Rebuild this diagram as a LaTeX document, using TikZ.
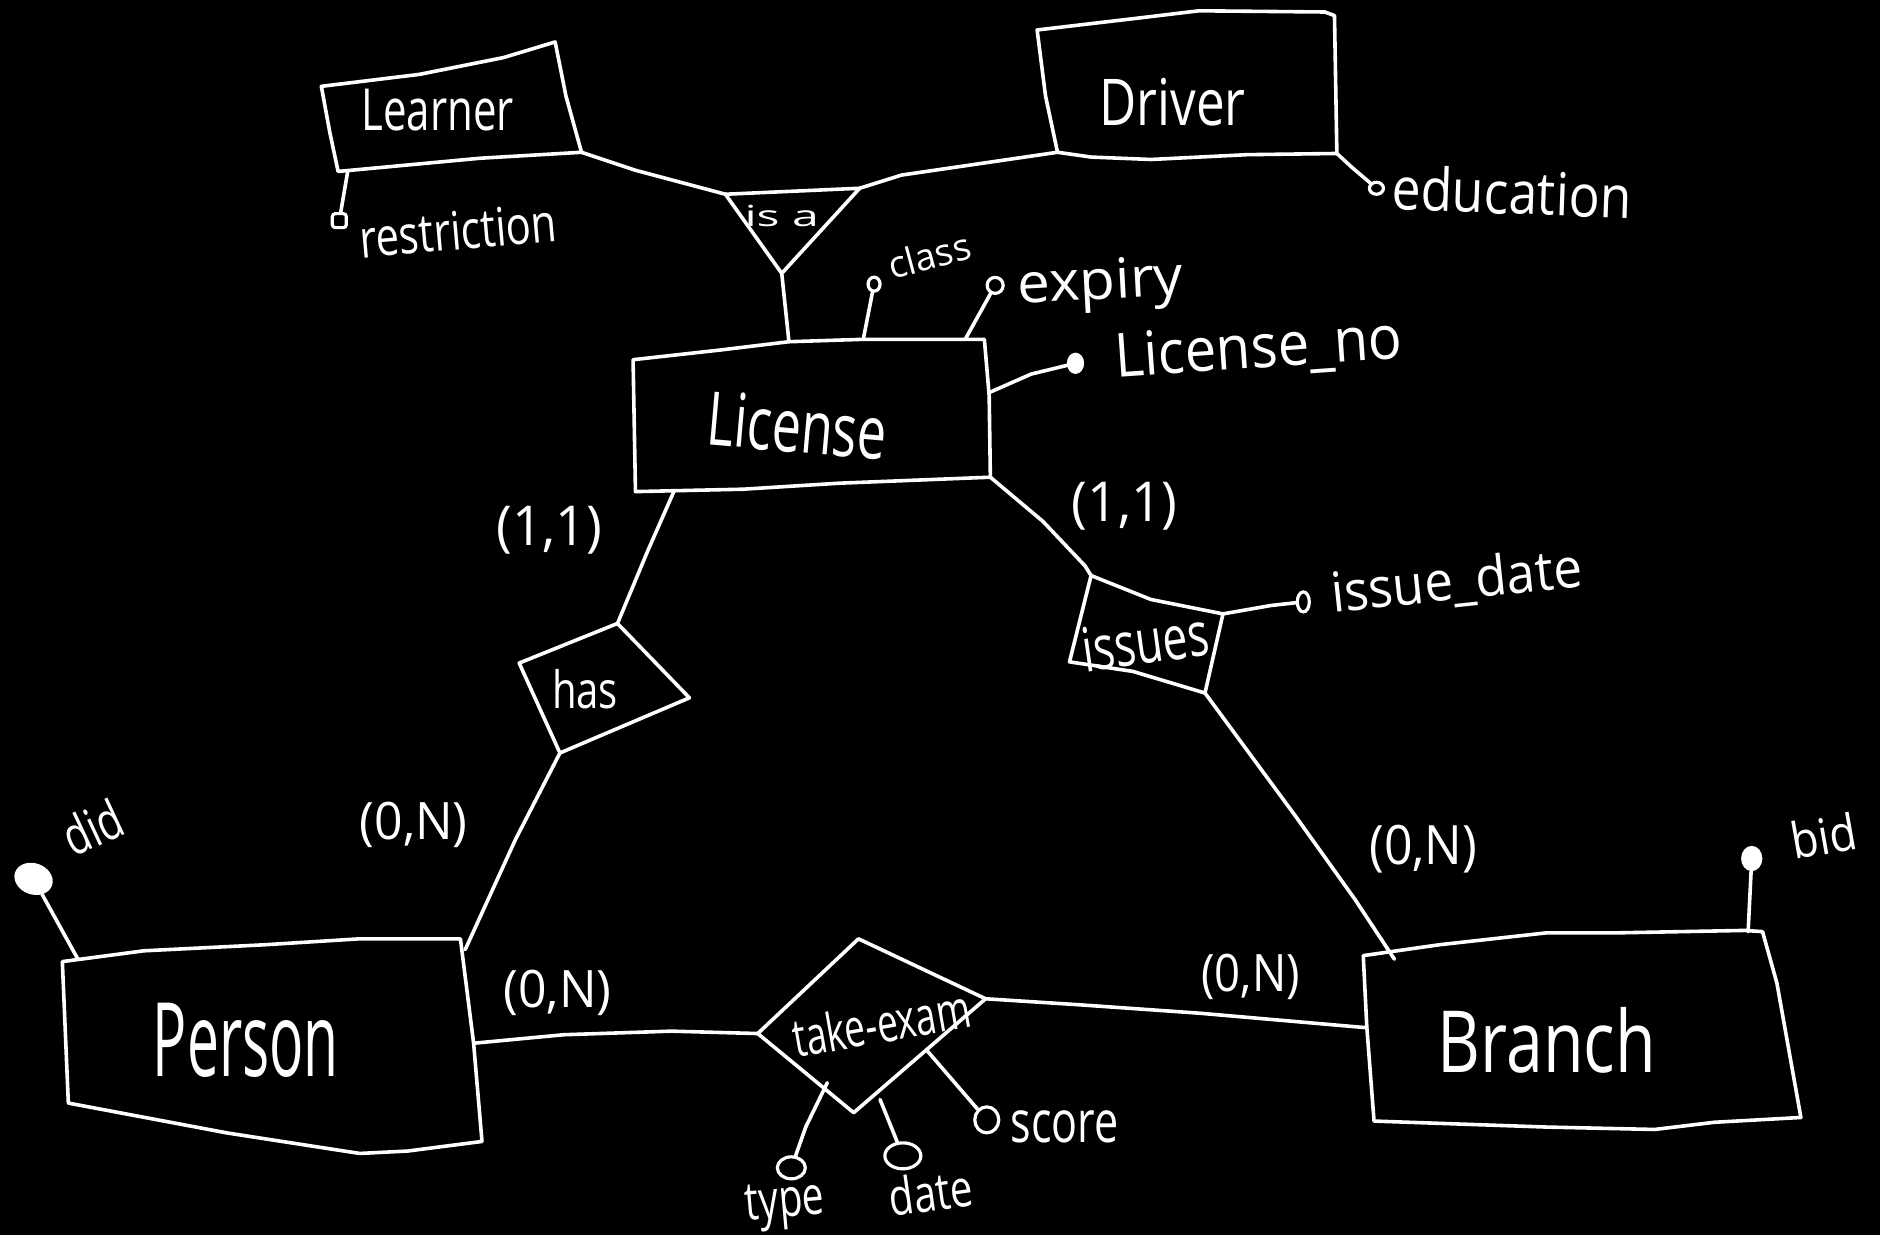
\documentclass[tikz,border=0pt]{standalone}
\usepackage{fontspec}
\usepackage{graphicx}
\setmainfont{Open Sans}
\usetikzlibrary{shapes.geometric}
% one drawing unit
\newlength\pxu
\setlength\pxu{0.6pt}
% text squeezed to a given width and total height
\newcommand\hw[3]{\resizebox*{#1\pxu}{#2\pxu}{#3}}
\tikzset{
  ink/.style={draw=white, line width=1.8pt, line join=round, line cap=round},
  lbl/.style={text=white, inner sep=0pt, outer sep=0pt},
  attr/.style={ellipse, draw=white, line width=1.6pt, inner sep=0pt, fill=black},
  keyattr/.style={ellipse, draw=white, line width=1.6pt, inner sep=0pt, fill=white},
}
\begin{document}
\begin{tikzpicture}[x=0.6pt, y=-0.6pt]
\fill[black] (0,0) rectangle (1568,1030);
\useasboundingbox (0,0) rectangle (1568,1030);

% ---------- Learner ----------
\coordinate (lTL) at (268,72);
\coordinate (lTR) at (463,35);
\coordinate (lBR) at (485,127);
\coordinate (lBL) at (282,143);
\draw[ink] (lTL) -- (350,62) -- (420,48) -- (lTR) -- (472,80) -- (lBR) -- (400,132) -- (lBL) -- (275,110) -- cycle;
\node[lbl] (learner) at (365,92) {\hw{127}{35}{Learner}};

% ---------- Driver ----------
\coordinate (dTL) at (865,25);
\coordinate (dTR) at (1113,13);
\coordinate (dBR) at (1115,128);
\coordinate (dBL) at (882,127);
\draw[ink] (dTL) -- (950,15) -- (1000,9) -- (1105,10) -- (dTR) -- (1114,70) -- (dBR) -- (1040,129) -- (960,133) -- (910,131) -- (dBL) -- (872,80) -- cycle;
\node[lbl] (driver) at (978,85) {\hw{122}{40}{Driver}};

% ---------- ISA triangle ----------
\coordinate (isaL) at (605,162);
\coordinate (isaR) at (717,157);
\coordinate (isaB) at (652,228);
\draw[ink] (isaL) -- (isaR) -- (isaB) -- cycle;
\node[lbl] (isa) at (652,180) {\hw{62}{18}{is a}};

% ---------- License ----------
\coordinate (cTL) at (528,300);
\coordinate (cTR) at (821,283);
\coordinate (cBR) at (826,398);
\coordinate (cBL) at (530,410);
\draw[ink] (cTL) -- (600,292) -- (658,285) -- (720,283) -- (cTR) -- (825,330) -- (cBR) -- (700,403) -- (620,408) -- (cBL) -- cycle;
\node[lbl, rotate=-5] (license) at (665,355) {\hw{150}{46}{License}};

% ---------- Person ----------
\coordinate (pTL) at (52,802);
\coordinate (pTR) at (384,783);
\coordinate (pBR) at (402,952);
\coordinate (pBL) at (57,920);
\draw[ink] (pTL) -- (120,793) -- (220,788) -- (300,783) -- (pTR) -- (395,870) -- (pBR) -- (340,960) -- (300,962) -- (190,945) -- (pBL) -- cycle;
\node[lbl] (person) at (205,868) {\hw{155}{62}{Person}};

% ---------- Branch ----------
\coordinate (bTL) at (1137,797);
\coordinate (bTR) at (1470,777);
\coordinate (bBR) at (1502,932);
\coordinate (bBL) at (1146,935);
\draw[ink] (bTL) -- (1200,788) -- (1290,778) -- (1350,778) -- (1455,776) -- (bTR) -- (1482,820) -- (bBR) -- (1430,936) -- (1380,942) -- (1290,940) -- (bBL) -- (1140,857) -- cycle;
\node[lbl] (branch) at (1290,868) {\hw{182}{55}{Branch}};

% ---------- has ----------
\coordinate (hT) at (515,520);
\coordinate (hR) at (575,582);
\coordinate (hB) at (467,628);
\coordinate (hL) at (433,553);
\draw[ink] (hT) -- (hR) -- (hB) -- (hL) -- cycle;
\node[lbl] (has) at (488,575) {\hw{55}{33}{has}};

% ---------- issues ----------
\coordinate (iTL) at (910,480);
\coordinate (iTR) at (1020,512);
\coordinate (iBR) at (1005,578);
\coordinate (iBL) at (892,552);
\draw[ink] (iTL) -- (960,500) -- (iTR) -- (iBR) -- (945,560) -- (iBL) -- cycle;
\node[lbl, rotate=8] (issues) at (955,535) {\hw{106}{38}{issues}};

% ---------- take-exam ----------
\coordinate (tT) at (716,783);
\coordinate (tR) at (822,833);
\coordinate (tB) at (712,928);
\coordinate (tL) at (632,862);
\draw[ink] (tT) -- (tR) -- (tB) -- (tL) -- cycle;
\node[lbl, rotate=10] (takeexam) at (735,853) {\hw{150}{34}{take-exam}};

% ---------- relationship connectors ----------
\draw[ink] (lBR) -- (530,142) -- (isaL);
\draw[ink] (isaR) -- (752,146) -- (dBL);
\coordinate (cTop) at (658,285);
\draw[ink] (isaB) -- (cTop);
\coordinate (cBot) at (562,410);
\draw[ink] (cBot) -- (540,460) -- (hT);
\coordinate (pTop) at (388,792);
\draw[ink] (hB) -- (430,700) -- (pTop);
\draw[ink] (cBR) -- (870,435) -- (905,472) -- (iTL);
\coordinate (bTop) at (1163,800);
\draw[ink] (iBR) -- (1080,680) -- (1130,750) -- (bTop);
\coordinate (pRight) at (396,870);
\draw[ink] (pRight) -- (470,863) -- (560,860) -- (tL);
\coordinate (bLeft) at (1138,857);
\draw[ink] (tR) -- (900,838) -- (1000,845) -- (bLeft);

% ---------- cardinalities ----------
\node[lbl] (c1) at (458,442) {\hw{88}{40}{(1,1)}};
\node[lbl] (c2) at (938,422) {\hw{88}{40}{(1,1)}};
\node[lbl] (c3) at (345,688) {\hw{90}{38}{(0,N)}};
\node[lbl] (c4) at (465,828) {\hw{90}{38}{(0,N)}};
\node[lbl] (c5) at (1043,815) {\hw{82}{38}{(0,N)}};
\node[lbl] (c6) at (1187,708) {\hw{90}{40}{(0,N)}};

% ---------- attributes ----------
% restriction
\coordinate (restrA) at (290,143);
\node[draw=white, line width=1.6pt, rounded corners=1.5pt, minimum size=7pt, inner sep=0pt] (restrC) at (283,184) {};
\draw[ink] (restrA) -- (restrC);
\node[lbl, rotate=5] (restr) at (382,192) {\hw{165}{33}{restriction}};

% education
\node[attr, minimum width=7pt, minimum height=6pt] (eduC) at (1148,157) {};
\draw[ink] (dBR) -- (1128,140) -- (eduC);
\node[lbl, rotate=-2] (edu) at (1261,160) {\hw{200}{38}{education}};

% class
\coordinate (classA) at (720,283);
\node[attr, minimum width=6pt, minimum height=7pt] (classC) at (729,237) {};
\draw[ink] (classA) -- (classC);
\node[lbl, rotate=15] (class) at (775,213) {\hw{70}{24}{class}};

% expiry
\coordinate (expA) at (805,283);
\node[attr, minimum width=8pt, minimum height=8pt] (expC) at (830,238) {};
\draw[ink] (expA) -- (expC);
\node[lbl, rotate=3] (exp) at (918,238) {\hw{138}{45}{expiry}};

% License_no
\coordinate (lnoA) at (826,327);
\node[keyattr, minimum width=7pt, minimum height=9pt] (lnoC) at (897,303) {};
\draw[ink] (lnoA) -- (860,312) -- (lnoC);
\node[lbl, rotate=4] (lno) at (1050,292) {\hw{240}{45}{License\_no}};

% issue_date
\node[attr, minimum width=6pt, minimum height=10pt] (idC) at (1087,502) {};
\draw[ink] (iTR) -- (1060,505) -- (idC);
\node[lbl, rotate=6] (idate) at (1215,486) {\hw{210}{42}{issue\_date}};

% did
\coordinate (didA) at (65,800);
\node[keyattr, minimum width=18pt, minimum height=14pt, rotate=-20] (didC) at (28,733) {};
\draw[ink] (didA) -- (didC);
\node[lbl, rotate=25] (did) at (77,690) {\hw{50}{34}{did}};

% bid
\coordinate (bidA) at (1458,777);
\node[keyattr, minimum width=9pt, minimum height=11pt] (bidC) at (1461,716) {};
\draw[ink] (bidA) -- (bidC);
\node[lbl, rotate=10] (bid) at (1521,697) {\hw{55}{32}{bid}};

% type
\coordinate (typeA) at (690,903);
\node[attr, minimum width=14pt, minimum height=11pt] (typeC) at (660,974) {};
\draw[ink] (typeA) -- (672,940) -- (typeC);
\node[lbl, rotate=5] (type) at (655,1006) {\hw{66}{40}{type}};

% date
\coordinate (dateA) at (734,917);
\node[attr, minimum width=18pt, minimum height=13pt] (dateC) at (753,964) {};
\draw[ink] (dateA) -- (dateC);
\node[lbl, rotate=8] (date) at (776,994) {\hw{70}{33}{date}};

% score
\coordinate (scoreA) at (773,876);
\node[attr, minimum width=12pt, minimum height=13pt] (scoreC) at (823,934) {};
\draw[ink] (scoreA) -- (scoreC);
\node[lbl] (score) at (888,940) {\hw{90}{27}{score}};
\end{tikzpicture}
\end{document}
